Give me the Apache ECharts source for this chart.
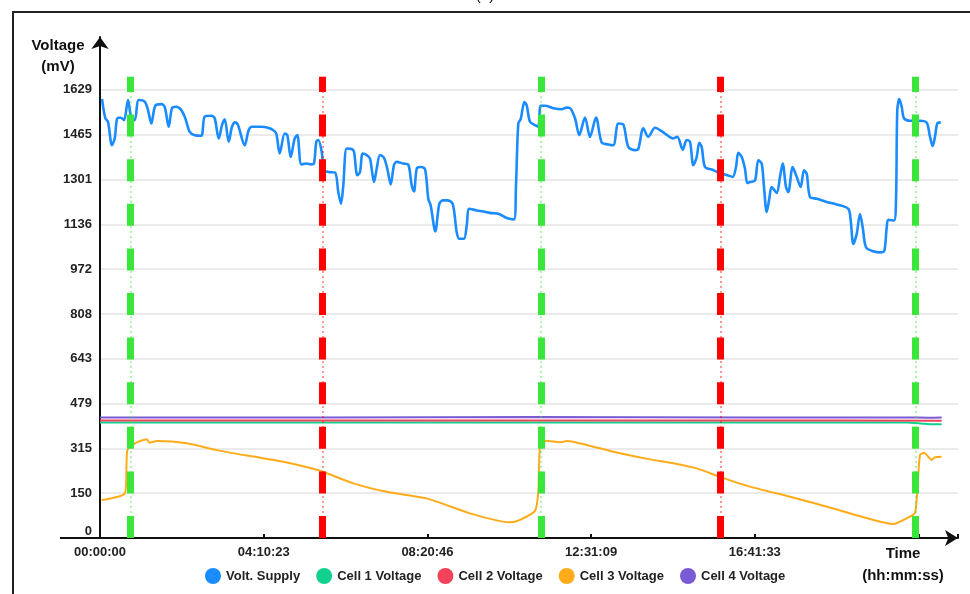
<!DOCTYPE html>
<html>
<head>
<meta charset="utf-8">
<title>Voltage</title>
<script src="https://cdn.jsdelivr.net/npm/echarts@6.0.0/dist/echarts.min.js"></script>
<style>
  html, body { margin: 0; padding: 0; background: #fff; }
  #chart { width: 970px; height: 594px; }
</style>
</head>
<body>
<div id="chart"></div>
<script>
  // time in seconds from 00:00:00, voltage in mV
  var seriesNames = ['Volt. Supply', 'Cell 1 Voltage', 'Cell 2 Voltage', 'Cell 3 Voltage', 'Cell 4 Voltage']
  var seriesColors = ['#1a8cff', '#12d18e', '#f2435b', '#ffab1a', '#7b5bd5']

  var voltSupply = [
    [184, 1596], [486, 1525], [734, 1512], [1101, 1426], [1349, 1451], [1588, 1525], [1900, 1527], [2202, 1518],
    [2570, 1592], [2872, 1525], [3184, 1518], [3551, 1592], [4102, 1586], [4405, 1555], [4708, 1506], [5075, 1571],
    [5626, 1577], [5938, 1567], [6305, 1494], [6607, 1562], [7002, 1567], [7461, 1555], [7828, 1525], [8232, 1475],
    [8691, 1463], [9296, 1461], [9608, 1531], [10214, 1534], [10526, 1525], [10893, 1451], [11196, 1500], [11444, 1521],
    [11811, 1439], [12114, 1494], [12417, 1510], [12664, 1500], [13279, 1426], [13646, 1482], [13949, 1494], [14803, 1494],
    [15417, 1490], [15876, 1482], [16179, 1469], [16491, 1396], [16950, 1469], [17189, 1463], [17501, 1383], [17868, 1451],
    [18107, 1463], [18474, 1356], [18932, 1359], [19391, 1356], [19639, 1359], [19850, 1439], [20034, 1445], [20346, 1402],
    [20556, 1334], [20951, 1328], [21566, 1326], [21869, 1254], [22117, 1211], [22328, 1279], [22640, 1414], [23099, 1412],
    [23310, 1402], [23613, 1316], [23860, 1328], [24108, 1396], [24475, 1390], [24778, 1377], [25145, 1291], [25393, 1340],
    [25696, 1390], [26063, 1380], [26366, 1340], [26678, 1282], [26980, 1353], [27228, 1365], [27834, 1359], [28293, 1355],
    [28605, 1279], [28816, 1257], [29064, 1340], [29366, 1346], [29825, 1338], [30128, 1230], [30348, 1205], [30770, 1110],
    [31138, 1211], [31450, 1224], [31872, 1224], [32368, 1211], [32735, 1107], [32974, 1083], [33404, 1083], [33653, 1132],
    [33891, 1193], [34570, 1187], [35176, 1183], [35947, 1177], [36552, 1175], [37324, 1159], [37993, 1154], [38176, 1279],
    [38388, 1506], [38608, 1522], [38950, 1584], [39160, 1572], [39461, 1512], [39920, 1500], [40223, 1494], [40443, 1571],
    [40838, 1571], [41600, 1562], [42370, 1558], [42829, 1564], [43132, 1562], [43591, 1525], [43985, 1463], [44508, 1528],
    [44967, 1457], [45518, 1528], [46041, 1436], [46647, 1429], [47106, 1426], [47565, 1506], [48024, 1502], [48482, 1420],
    [49097, 1408], [49400, 1412], [49859, 1488], [50318, 1457], [50932, 1490], [51850, 1469], [52611, 1451], [52979, 1457],
    [53475, 1410], [53842, 1445], [54144, 1439], [54447, 1353], [54759, 1383], [54998, 1435], [55218, 1420], [55521, 1346],
    [56136, 1337], [56897, 1324], [57567, 1316], [58063, 1310], [58366, 1346], [58577, 1398], [58889, 1383], [59192, 1340],
    [59403, 1287], [59651, 1291], [60109, 1297], [60412, 1371], [60724, 1359], [60935, 1273], [61183, 1181], [61421, 1230],
    [61642, 1273], [62100, 1251], [62404, 1310], [62651, 1359], [62954, 1273], [63165, 1254], [63569, 1346], [63936, 1310],
    [64303, 1273], [64606, 1334], [64854, 1322], [65157, 1236], [65772, 1230], [66690, 1218], [67607, 1209], [68672, 1193],
    [68892, 1150], [69131, 1064], [69443, 1101], [69745, 1174], [69993, 1125], [70296, 1052], [70966, 1037], [71581, 1033],
    [71975, 1039], [72195, 1125], [72342, 1153], [72865, 1150], [73049, 1224], [73168, 1555], [73352, 1595], [73572, 1567],
    [73783, 1525], [74334, 1516], [75251, 1516], [75866, 1509], [76169, 1457], [76417, 1423], [76628, 1457], [76839, 1506],
    [77151, 1510]
  ]
  var cell1 = [[0, 409], [20000, 409], [40000, 409], [60000, 409], [74000, 409], [75500, 405], [76300, 403], [77243, 403]]
  var cell2 = [[0, 417], [20000, 417], [40000, 417], [60000, 417], [77243, 416]]
  var cell3 = [
    [156, 125], [2294, 150], [2505, 308], [3212, 333], [4286, 348], [4524, 335], [5203, 341], [7956, 333],
    [10710, 308], [13766, 286], [16821, 265], [20189, 232], [23245, 186], [26311, 155], [29981, 131], [33955, 76],
    [37626, 43], [38543, 52], [39920, 85], [40223, 155], [40379, 315], [40993, 342], [42214, 337], [42829, 341],
    [44664, 327], [47106, 302], [50474, 274], [52611, 260], [54759, 241], [56897, 210], [59651, 174], [63321, 137],
    [67296, 94], [70966, 52], [72801, 37], [74031, 58], [74793, 78], [75004, 162], [75251, 290], [75618, 298],
    [76325, 272], [76628, 282], [77243, 284]
  ]
  var cell4 = [[0, 428], [20000, 428], [40000, 429], [60000, 428], [74000, 428], [76000, 427], [77243, 428]]

  // vertical event markers (seconds)
  var greenEvents = [2817, 40471, 74838]
  var redEvents = [20419, 56943]

  // axis scales
  var Y_MIN = -43 / 3
  var Y_MAX = 1823
  var Y_STEP = 493 / 3
  var EVENT_TOP = 1677
  var X_MAX = 78739
  var X_STEP = 15023.25
  var LAST_X_LABEL = 70000

  var FONT = '"Liberation Sans", Arial, sans-serif'

  function hms(v) {
    var s = Math.floor(v + 0.001)
    var h = Math.floor(s / 3600)
    var m = Math.floor((s % 3600) / 60)
    var sec = s % 60
    var p = function (n) { return (n < 10 ? '0' : '') + n }
    return p(h) + ':' + p(m) + ':' + p(sec)
  }

  function eventLines(times, color) {
    var out = []
    times.forEach(function (t) {
      out.push([
        {xAxis: t, yAxis: Y_MIN, lineStyle: {color: color, width: 1.5, type: [2, 3], opacity: 0.55}},
        {xAxis: t, yAxis: EVENT_TOP}
      ])
      out.push([
        {xAxis: t, yAxis: Y_MIN, lineStyle: {color: color, width: 7, type: [22, 22.6], opacity: 1}},
        {xAxis: t, yAxis: EVENT_TOP}
      ])
    })
    return out
  }

  var gridColors = []
  for (var i = 0; i < 11; i++) gridColors.push('#ebebeb')
  gridColors.push('rgba(0,0,0,0)', 'rgba(0,0,0,0)')

  var seriesData = [voltSupply, cell1, cell2, cell3, cell4]
  var series = seriesData.map(function (d, i) {
    return {
      name: seriesNames[i],
      type: 'line',
      data: d,
      showSymbol: false,
      smooth: i === 0 ? 0.3 : 0.2,
      color: seriesColors[i],
      lineStyle: {width: i === 0 ? 2.6 : 2, color: seriesColors[i]},
      z: 2
    }
  })
  series.push({
    name: 'events',
    type: 'line',
    data: [],
    z: 5,
    markLine: {
      silent: true,
      symbol: ['none', 'none'],
      label: {show: false},
      animation: false,
      data: eventLines(greenEvents, '#3be63b').concat(eventLines(redEvents, '#ff0000'))
    }
  })

  var chart = echarts.init(document.getElementById('chart'), null, {renderer: 'canvas'})
  chart.setOption({
    animation: false,
    backgroundColor: '#fff',
    grid: {left: 100, right: 12, top: 37, bottom: 56, containLabel: false, outerBoundsMode: 'none'},
    legend: {
      data: seriesNames,
      left: 205,
      top: 568,
      padding: 0,
      icon: 'circle',
      itemWidth: 16,
      itemHeight: 16,
      itemGap: 16,
      textStyle: {fontFamily: FONT, fontSize: 13, fontWeight: 'bold', color: '#222'}
    },
    xAxis: {
      type: 'value',
      min: 0,
      max: X_MAX,
      interval: X_STEP,
      name: 'Time\n(hh:mm:ss)',
      nameLocation: 'end',
      nameGap: 0,
      nameTextStyle: {
        fontFamily: FONT, fontSize: 15, fontWeight: 'bold', color: '#111',
        align: 'center', verticalAlign: 'top', lineHeight: 22, padding: [5, 110, 0, 0]
      },
      axisLine: {
        show: true, onZero: false,
        symbol: ['none', 'arrow'], symbolSize: [12, 13],
        lineStyle: {color: '#111', width: 2}
      },
      axisTick: {show: true, inside: true, length: 4, lineStyle: {color: '#111', width: 2}},
      axisLabel: {
        margin: 8,
        fontFamily: FONT, fontSize: 13, fontWeight: 'bold', color: '#222',
        formatter: function (v) { return v > LAST_X_LABEL ? '' : hms(v) }
      },
      splitLine: {show: false}
    },
    yAxis: {
      type: 'value',
      min: Y_MIN,
      max: Y_MAX,
      interval: Y_STEP,
      name: 'Voltage\n(mV)',
      nameLocation: 'end',
      nameGap: 2,
      nameTextStyle: {
        fontFamily: FONT, fontSize: 15, fontWeight: 'bold', color: '#111',
        align: 'center', verticalAlign: 'top', lineHeight: 21, padding: [0, 84, 0, 0]
      },
      axisLine: {
        show: true, onZero: false,
        symbol: ['none', 'arrow'], symbolSize: [13, 12],
        lineStyle: {color: '#111', width: 2}
      },
      axisTick: {show: false},
      axisLabel: {
        margin: 8,
        verticalAlignMinLabel: 'bottom',
        fontFamily: FONT, fontSize: 13, fontWeight: 'bold', color: '#222',
        formatter: function (v) {
          if (v > 1700) return ''
          return String(Math.max(0, Math.ceil(v - 0.01)))
        }
      },
      splitLine: {show: true, showMaxLine: false, lineStyle: {color: gridColors, width: 2}}
    },
    graphic: [
      {type: 'rect', shape: {x: 13, y: 12, width: 1000, height: 1000}, style: {fill: 'none', stroke: '#222', lineWidth: 2}, silent: true},
      {type: 'line', shape: {x1: 60, y1: 538, x2: 100, y2: 538}, style: {stroke: '#111', lineWidth: 2}, silent: true},
      {type: 'text', x: 485, y: -12, style: {text: '(a)', fontFamily: FONT, fontSize: 15, fill: '#111', textAlign: 'center'}, silent: true}
    ],
    series: series
  })
</script>
</body>
</html>
